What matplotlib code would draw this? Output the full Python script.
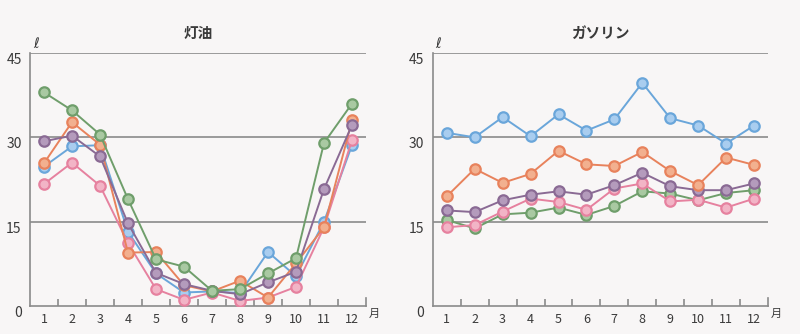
import matplotlib.pyplot as plt
import numpy as np

plt.rcParams['font.family'] = ['Noto Sans CJK JP', 'DejaVu Sans']

months = np.arange(1, 13)
month_labels = [str(m) for m in months]

# 灯油 (kerosene), litres per month
kerosene_green = [38.0, 34.8, 30.5, 19.0, 8.3, 7.0, 2.7, 3.0, 5.8, 8.5, 29.0, 36.0]
kerosene_orange = [25.4, 32.7, 28.7, 9.5, 9.6, 3.7, 2.6, 4.5, 1.5, 7.6, 14.0, 33.0]
kerosene_blue = [24.8, 28.4, 28.6, 13.2, 5.8, 2.4, 2.6, 2.3, 9.6, 5.3, 15.0, 28.6]
kerosene_purple = [29.3, 30.3, 26.6, 14.7, 5.9, 3.9, 2.7, 2.1, 4.2, 6.1, 20.8, 32.2]
kerosene_pink = [21.7, 25.5, 21.4, 11.2, 3.0, 1.1, 2.4, 0.9, 1.5, 3.4, 14.0, 29.5]

# ガソリン (gasoline), litres per month
gasoline_blue = [30.8, 30.0, 33.6, 30.2, 34.1, 31.2, 33.2, 39.7, 33.4, 32.1, 28.9, 32.1]
gasoline_orange = [19.5, 24.4, 21.9, 23.5, 27.6, 25.2, 24.9, 27.4, 24.0, 21.5, 26.4, 25.1]
gasoline_purple = [17.0, 16.7, 18.8, 19.8, 20.4, 19.8, 21.5, 23.7, 21.3, 20.6, 20.6, 21.8]
gasoline_pink = [14.0, 14.4, 16.8, 19.1, 18.5, 17.1, 20.9, 21.8, 18.6, 18.9, 17.5, 19.1]
gasoline_green = [15.3, 13.8, 16.3, 16.6, 17.5, 16.2, 17.8, 20.4, 20.0, 18.8, 20.1, 20.6]

colors = {
    'green': ('#6f9e6b', '#a9c9a2'),
    'orange': ('#e8825c', '#f2b08f'),
    'blue': ('#6aa6da', '#a9cdef'),
    'purple': ('#8a6a94', '#b49bbc'),
    'pink': ('#e6819f', '#f2b4c6'),
}

bg = '#f8f6f6'
grid_c = '#8a8a8a'
text_c = '#3a3a3a'

fig = plt.figure(figsize=(8, 3.34), dpi=100, facecolor=bg)
ax1 = fig.add_axes([0.0375, 0.0838, 0.42, 0.7575])
ax2 = fig.add_axes([0.541, 0.0838, 0.419, 0.7575])


def draw_panel(ax, title, series):
    ax.set_facecolor(bg)
    for vals, key in series:
        line_c, face_c = colors[key]
        ax.plot(months, vals, color=line_c, lw=1.4, marker='o', ms=7.5,
                mfc=face_c, mec=line_c, mew=1.6, zorder=3)
    ax.set_xlim(0.5, 12.5)
    ax.set_ylim(0, 45)
    for y in (15, 30, 45):
        ax.axhline(y, color=grid_c, lw=1.2, zorder=1)
    for s in ('top', 'right'):
        ax.spines[s].set_visible(False)
    for s in ('left', 'bottom'):
        ax.spines[s].set_color(grid_c)
        ax.spines[s].set_linewidth(1.2)

    # month labels on minor ticks, boundary ticks on major
    ax.set_xticks(np.arange(1.5, 12.5, 1.0))
    ax.set_xticklabels([])
    ax.tick_params(axis='x', which='major', direction='in', length=5,
                   width=1.2, color=grid_c)
    ax.set_xticks(months, minor=True)
    ax.set_xticklabels(month_labels, minor=True)
    ax.tick_params(axis='x', which='minor', length=0, pad=5,
                   labelsize=9, labelcolor=text_c)
    ax.plot([12.5, 12.5], [0, 1.5], color=grid_c, lw=1.2, clip_on=False)
    ax.text(12.6, -0.5, '月', fontsize=8, color=text_c, ha='left', va='top')

    ax.set_yticks([0, 15, 30, 45])
    ax.set_yticklabels(['0', '15', '30', '45'])
    ax.tick_params(axis='y', length=0, pad=6, labelsize=10, labelcolor=text_c)
    for lab in ax.get_yticklabels():
        lab.set_va('top')
    ax.text(0.6, 46.6, 'ℓ', fontsize=10, color=text_c, ha='left', va='center',
            style='italic', family=['DejaVu Sans'])
    ax.text(6.5, 48.6, title, fontsize=10.5, color=text_c, ha='center',
            va='center', fontweight='bold')


draw_panel(ax1, '灯油', [
    (kerosene_blue, 'blue'),
    (kerosene_pink, 'pink'),
    (kerosene_orange, 'orange'),
    (kerosene_purple, 'purple'),
    (kerosene_green, 'green'),
])
draw_panel(ax2, 'ガソリン', [
    (gasoline_green, 'green'),
    (gasoline_pink, 'pink'),
    (gasoline_purple, 'purple'),
    (gasoline_orange, 'orange'),
    (gasoline_blue, 'blue'),
])

fig.savefig('out.png', dpi=100, facecolor=bg)
